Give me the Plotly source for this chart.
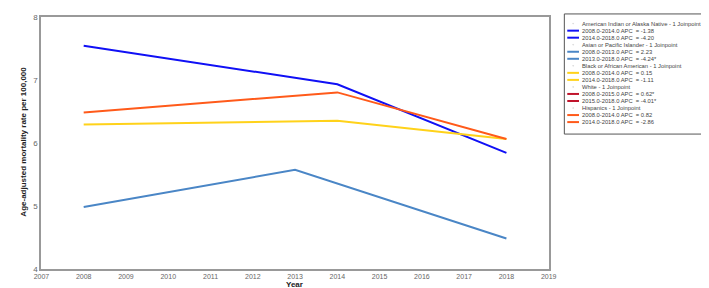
import plotly.graph_objects as go

# ---------------- data ----------------
group_names = [
    "American Indian or Alaska Native - 1 Joinpoint",
    "Asian or Pacific Islander - 1 Joinpoint",
    "Black or African American - 1 Joinpoint",
    "White - 1 Joinpoint",
    "Hispanics - 1 Joinpoint",
]
segment_labels = [
    ["2008.0-2014.0 APC  = -1.38", "2014.0-2018.0 APC  = -4.20"],
    ["2008.0-2013.0 APC  = 2.23", "2013.0-2018.0 APC  = -4.24*"],
    ["2008.0-2014.0 APC  = 0.15", "2014.0-2018.0 APC  = -1.11"],
    ["2008.0-2015.0 APC  = 0.62*", "2015.0-2018.0 APC  = -4.01*"],
    ["2008.0-2014.0 APC  = 0.82", "2014.0-2018.0 APC  = -2.86"],
]
aian_years = [2008, 2014, 2018]
aian_rate = [7.54, 6.93, 5.84]
api_years = [2008, 2013, 2018]
api_rate = [4.98, 5.57, 4.48]
black_years = [2008, 2014, 2018]
black_rate = [6.29, 6.35, 6.06]
white_years = []
white_rate = []
hisp_years = [2008, 2014, 2018]
hisp_rate = [6.48, 6.80, 6.06]

x_ticks = list(range(2007, 2020))
y_ticks = [4, 5, 6, 7, 8]

colors = ["#1010F5", "#4A86C6", "#FFD21A", "#C0142C", "#FF5A1A"]
series = [
    (aian_years, aian_rate),
    (api_years, api_rate),
    (black_years, black_rate),
    (white_years, white_rate),
    (hisp_years, hisp_rate),
]

W, H = 709, 288
def px(x):
    return x / W
def py(y):
    return 1 - y / H

fig = go.Figure()
for (xs, ys), c, name in zip(series, colors, group_names):
    fig.add_trace(go.Scatter(x=xs, y=ys, mode="lines", name=name,
                             line=dict(color=c, width=2), showlegend=False))

# ---------------- manual legend ----------------
shapes = []
annotations = []
shapes.append(dict(type="rect", xref="paper", yref="paper",
                   x0=px(561), x1=px(706), y0=py(126), y1=py(2),
                   line=dict(color="#555", width=1), fillcolor="white", layer="below"))
row = 0
step = 7.26
y0 = 12
lfont = dict(size=5.8, color="#444", family="Arial")
for gi, name in enumerate(group_names):
    yy = y0 + row * step
    shapes.append(dict(type="circle", xref="paper", yref="paper",
                       x0=px(569.5), x1=px(570.5), y0=py(yy + 0.5), y1=py(yy - 0.5),
                       line=dict(color="#ccc", width=0.5), fillcolor="#ccc"))
    annotations.append(dict(xref="paper", yref="paper", x=px(578), y=py(yy),
                            text=name, showarrow=False, xanchor="left", yanchor="middle",
                            align="left", borderpad=0, font=lfont))
    row += 1
    for seg in segment_labels[gi]:
        yy = y0 + row * step
        shapes.append(dict(type="line", xref="paper", yref="paper",
                           x0=px(564), x1=px(576), y0=py(yy), y1=py(yy),
                           line=dict(color=colors[gi], width=2)))
        annotations.append(dict(xref="paper", yref="paper", x=px(578), y=py(yy),
                                text=seg, showarrow=False, xanchor="left", yanchor="middle",
                                align="left", borderpad=0, font=lfont))
        row += 1

# axis titles
annotations.append(dict(xref="paper", yref="paper", x=px(285), y=py(281),
                        text="<b>Year</b>", showarrow=False, xanchor="center", yanchor="middle",
                        font=dict(size=8, color="#222", family="Arial")))
annotations.append(dict(xref="paper", yref="paper", x=px(8), y=py(134),
                        text="<b>Age-adjusted mortality rate per 100,000</b>", showarrow=False,
                        textangle=-90, xanchor="center", yanchor="middle",
                        font=dict(size=8, color="#222", family="Arial")))

fig.update_layout(
    width=W, height=H,
    margin=dict(l=0, r=0, t=0, b=0),
    paper_bgcolor="white", plot_bgcolor="white",
    shapes=shapes, annotations=annotations,
    xaxis=dict(domain=[px(26), px(545)], range=[2007, 2019],
               tickvals=x_ticks, ticktext=[str(v) for v in x_ticks],
               showgrid=False, zeroline=False, showline=True, mirror=True,
               linecolor="#999", linewidth=2, ticks="",
               tickfont=dict(size=7, color="#666", family="Arial")),
    yaxis=dict(domain=[py(265), py(5)], range=[4, 8],
               tickvals=y_ticks, ticktext=[str(v) for v in y_ticks],
               showgrid=False, zeroline=False, showline=True, mirror=True,
               linecolor="#999", linewidth=2, ticks="",
               tickfont=dict(size=8, color="#666", family="Arial")),
    showlegend=False,
)

fig.write_html("out.html")
